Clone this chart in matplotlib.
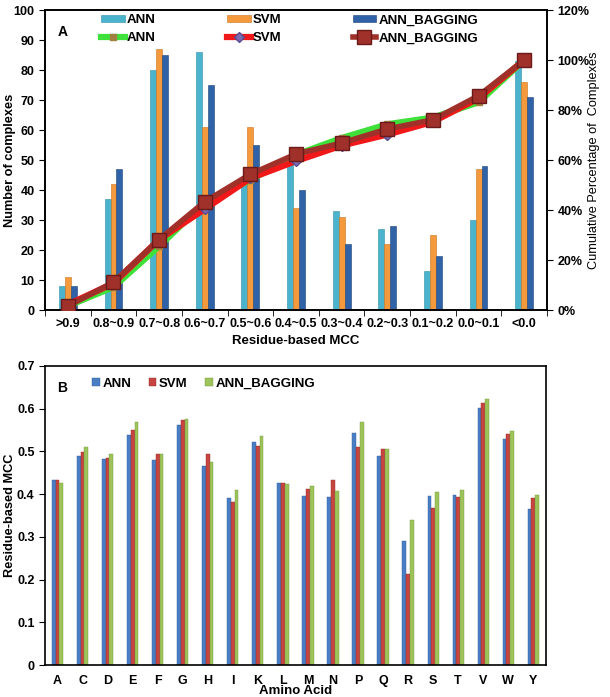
import numpy as np
import matplotlib
matplotlib.use("Agg")
import matplotlib.pyplot as plt
from matplotlib.ticker import PercentFormatter

plt.rcParams['font.family'] = ['Liberation Sans', 'DejaVu Sans']
plt.rcParams['font.weight'] = 'bold'

# ---- panel A data ----
mcc_bins = [">0.9", "0.8~0.9", "0.7~0.8", "0.6~0.7", "0.5~0.6", "0.4~0.5",
            "0.3~0.4", "0.2~0.3", "0.1~0.2", "0.0~0.1", "<0.0"]
ann_cnt = [8, 37, 80, 86, 44, 50, 33, 27, 13, 30, 83]
svm_cnt = [11, 42, 87, 61, 61, 34, 31, 22, 25, 47, 76]
bag_cnt = [8, 47, 85, 75, 55, 40, 22, 28, 18, 48, 71]
ann_cum = [1.6, 9.2, 25.5, 43.0, 52.0, 62.1, 68.8, 74.3, 77.0, 83.1, 100]
svm_cum = [2.2, 10.7, 28.2, 40.4, 52.7, 59.6, 65.8, 70.2, 75.3, 84.7, 100]
bag_cum = [1.6, 11.1, 28.2, 43.3, 54.3, 62.4, 66.8, 72.4, 76.1, 85.7, 100]

# ---- panel B data ----
amino = ["A", "C", "D", "E", "F", "G", "H", "I", "K", "L",
         "M", "N", "P", "Q", "R", "S", "T", "V", "W", "Y"]
ann_mcc = [0.432, 0.489, 0.482, 0.538, 0.479, 0.561, 0.467, 0.392, 0.521, 0.425,
           0.395, 0.393, 0.544, 0.489, 0.291, 0.396, 0.397, 0.602, 0.530, 0.365]
svm_mcc = [0.432, 0.499, 0.485, 0.549, 0.493, 0.574, 0.494, 0.382, 0.513, 0.427,
           0.411, 0.432, 0.510, 0.505, 0.214, 0.368, 0.393, 0.613, 0.541, 0.392]
bag_mcc = [0.425, 0.510, 0.493, 0.570, 0.493, 0.576, 0.476, 0.410, 0.535, 0.424,
           0.418, 0.407, 0.569, 0.505, 0.339, 0.406, 0.410, 0.623, 0.548, 0.398]

fig = plt.figure(figsize=(6.1, 6.97), dpi=100)

# ================= panel A =================
ax = fig.add_axes([0.0738, 0.5552, 0.823, 0.4304])
x = np.arange(len(mcc_bins))
w = 0.13
b1 = ax.bar(x - w, ann_cnt, w, color="#4BB4CC", edgecolor="#2E8FA8", lw=0.4)
b2 = ax.bar(x, svm_cnt, w, color="#F59A3C", edgecolor="#C7731E", lw=0.4)
b3 = ax.bar(x + w, bag_cnt, w, color="#2F62A6", edgecolor="#1E4478", lw=0.4)
ax.set_xlim(-0.5, len(mcc_bins) - 0.5)
ax.set_ylim(0, 100)
ax.set_yticks(np.arange(0, 101, 10))
ax.set_xticks(x)
ax.set_xticklabels(mcc_bins)
ax.set_xticks(np.arange(-0.5, len(mcc_bins), 1), minor=True)
ax.tick_params(axis="x", which="major", length=0, labelsize=9, pad=6)
ax.tick_params(axis="x", which="minor", length=4, direction="out")
ax.tick_params(axis="y", labelsize=9, length=4)
ax.set_ylabel("Number of complexes", fontsize=9.2, fontweight="bold", labelpad=-2)
ax.set_xlabel("Residue-based MCC", fontsize=9.5, fontweight="bold", labelpad=3)
for s in ax.spines.values():
    s.set_linewidth(1.2)
ax.text(0.025, 0.95, "A", transform=ax.transAxes, fontsize=10, fontweight="bold", va="top")

ax2 = ax.twinx()
l1, = ax2.plot(x, ann_cum, "-", color="#3EE03A", lw=4.5, zorder=3,
               marker="s", ms=4, mfc="#A08040", mec="#A08040")
l2, = ax2.plot(x, svm_cum, "-", color="#F01818", lw=4.5, zorder=4,
               marker="D", ms=5, mfc="#7A6AB0", mec="#5A4A90")
l3, = ax2.plot(x, bag_cum, "-", color="#A0302A", lw=4, zorder=5,
               marker="s", ms=9.5, mfc="#A0302A", mec="#6A1A18", mew=1)
ax2.set_ylim(0, 120)
ax2.set_yticks(np.arange(0, 121, 20))
ax2.yaxis.set_major_formatter(PercentFormatter(decimals=0))
ax2.tick_params(axis="y", labelsize=9, length=4)
ax2.set_ylabel("Cumulative Percentage of  Complexes", fontsize=9.2,
               fontweight="normal", labelpad=-1)
for s in ax2.spines.values():
    s.set_linewidth(1.2)

ax2.legend([b1, l1, b2, l2, b3, l3],
           ["ANN", "ANN", "SVM", "SVM", "ANN_BAGGING", "ANN_BAGGING"],
           ncol=3, frameon=False, loc="upper left", bbox_to_anchor=(0.088, 1.025),
           fontsize=9.5, handlelength=1.8, handleheight=0.5, handletextpad=0.15,
           columnspacing=5.4, labelspacing=0.45)

# ================= panel B =================
bx = fig.add_axes([0.0738, 0.0459, 0.821, 0.429])
xa = np.arange(len(amino))
wb = 0.15
bx.bar(xa - wb, ann_mcc, wb, color="#4A7EC4", edgecolor="#2F5D9C", lw=0.3, label="ANN")
bx.bar(xa, svm_mcc, wb, color="#C64541", edgecolor="#962C29", lw=0.3, label="SVM")
bx.bar(xa + wb, bag_mcc, wb, color="#9DC35A", edgecolor="#76993A", lw=0.3, label="ANN_BAGGING")
bx.set_xlim(-0.5, len(amino) - 0.5)
bx.set_ylim(0, 0.7)
bx.set_yticks(np.arange(0, 0.71, 0.1))
bx.set_yticklabels(["0"] + [f"{v:.1f}" for v in np.arange(0.1, 0.71, 0.1)])
bx.set_xticks(xa)
bx.set_xticklabels(amino)
bx.tick_params(axis="x", length=0, labelsize=9, pad=7)
bx.tick_params(axis="y", labelsize=9, length=4)
bx.set_ylabel("Residue-based MCC", fontsize=9.2, fontweight="bold", labelpad=1)
bx.set_xlabel("Amino Acid", fontsize=9.5, fontweight="bold", labelpad=-1)
for s in bx.spines.values():
    s.set_linewidth(1.2)
bx.text(0.025, 0.95, "B", transform=bx.transAxes, fontsize=10, fontweight="bold", va="top")
bx.legend(ncol=3, frameon=False, loc="upper left", bbox_to_anchor=(0.07, 1.0),
          fontsize=9.5, handlelength=0.6, handleheight=0.6, handletextpad=0.2,
          columnspacing=1.3)

fig.savefig("out.png", dpi=100)
